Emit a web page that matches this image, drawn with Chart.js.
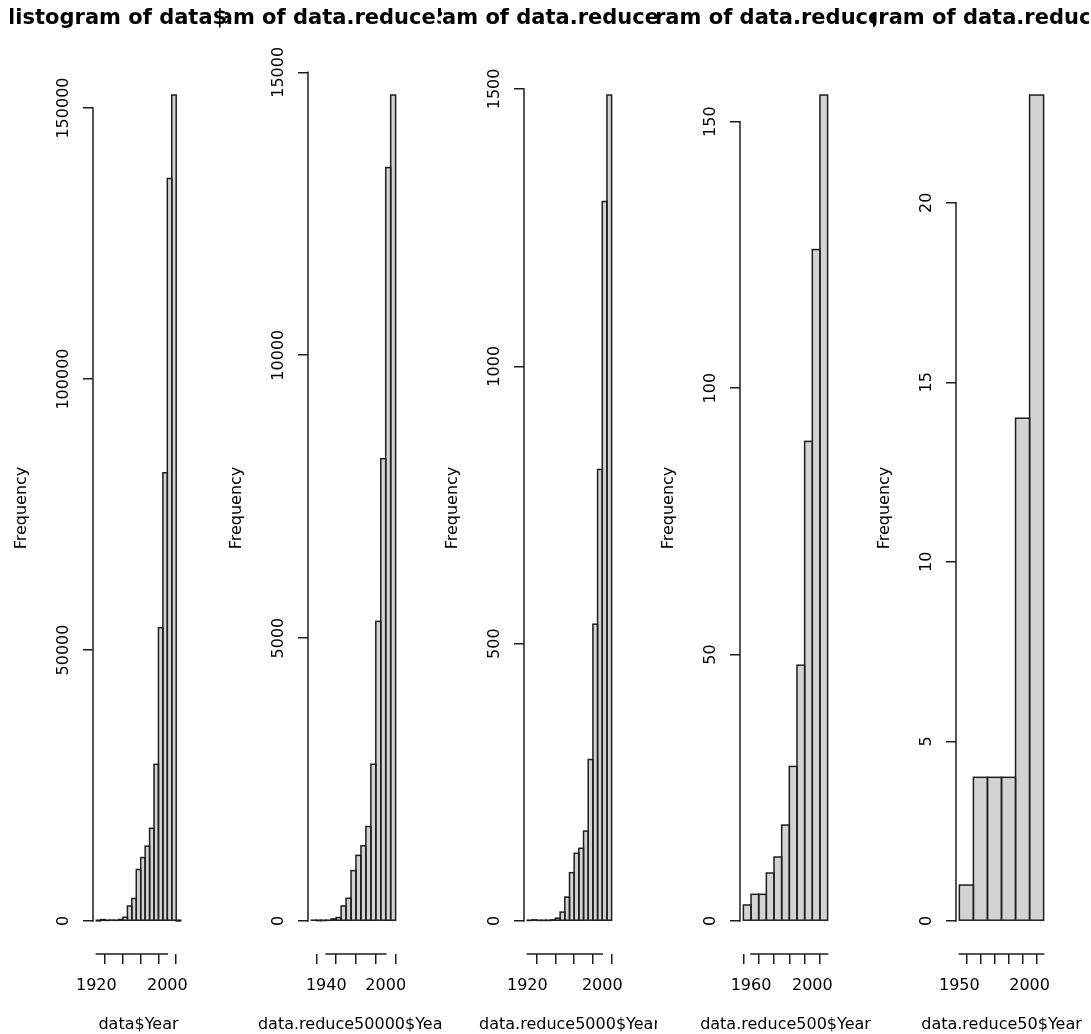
<!DOCTYPE html>
<html>
<head>
<meta charset="utf-8">
<script src="https://cdn.jsdelivr.net/npm/chart.js@4.4.1/dist/chart.umd.min.js"></script>
<style>
  html, body { margin: 0; padding: 0; background: #fff; }
  #wrap { position: relative; width: 1091px; height: 1034px; overflow: hidden; background: #fff; }
  #wrap canvas { position: absolute; top: 0; }
</style>
</head>
<body>
<div id="wrap"></div>
<script>
// Release-year histograms: the full song table and four random subsets of it.

const mainTitles = [
  'Histogram of data$Year',
  'Histogram of data.reduce50000$Year',
  'Histogram of data.reduce5000$Year',
  'Histogram of data.reduce500$Year',
  'Histogram of data.reduce50$Year'
];
const xTitles = [
  'data$Year',
  'data.reduce50000$Year',
  'data.reduce5000$Year',
  'data.reduce500$Year',
  'data.reduce50$Year'
];
const yTitle = 'Frequency';

// full table (bin edges and counts)
const fullBreaks = [1920, 1925, 1930, 1935, 1940, 1945, 1950, 1955, 1960, 1965,
                    1970, 1975, 1980, 1985, 1990, 1995, 2000, 2005, 2010, 2015];
const fullCounts = [18, 246, 105, 159, 115, 273, 682, 2762, 4143, 9500,
                    11700, 13800, 17100, 28900, 54100, 82700, 137000, 152400, 1];
const fullYTicks = [0, 50000, 100000, 150000];
const fullXTicks = [1920, 1940, 1960, 1980, 2000];
const fullXLabels = ['1920', '', '', '', '2000'];

// 50000-row subset
const r50000Breaks = [1925, 1930, 1935, 1940, 1945, 1950, 1955, 1960, 1965,
                      1970, 1975, 1980, 1985, 1990, 1995, 2000, 2005, 2010];
const r50000Counts = [14, 6, 8, 12, 36, 60, 265, 400, 890,
                      1160, 1330, 1670, 2770, 5295, 8170, 13316, 14598];
const r50000YTicks = [0, 5000, 10000, 15000];
const r50000XTicks = [1940, 1960, 1980, 2000];
const r50000XLabels = ['1940', '', '', '2000'];

// 5000-row subset
const r5000Breaks = [1920, 1925, 1930, 1935, 1940, 1945, 1950, 1955, 1960, 1965,
                     1970, 1975, 1980, 1985, 1990, 1995, 2000, 2005, 2010];
const r5000Counts = [1, 2, 1, 1, 1, 2, 5, 16, 43, 87,
                     122, 131, 162, 291, 535, 814, 1297, 1489];
const r5000YTicks = [0, 500, 1000, 1500];
const r5000XTicks = [1920, 1940, 1960, 1980, 2000];
const r5000XLabels = ['1920', '', '', '', '2000'];

// 500-row subset
const r500Breaks = [1955, 1960, 1965, 1970, 1975, 1980, 1985, 1990, 1995, 2000, 2005, 2010];
const r500Counts = [3, 5, 5, 9, 12, 18, 29, 48, 90, 126, 155];
const r500YTicks = [0, 50, 100, 150];
const r500XTicks = [1960, 1970, 1980, 1990, 2000, 2010];
const r500XLabels = ['1960', '', '', '', '2000', ''];

// 50-row subset
const r50Breaks = [1950, 1960, 1970, 1980, 1990, 2000, 2010];
const r50Counts = [1, 4, 4, 4, 14, 23];
const r50YTicks = [0, 5, 10, 15, 20];
const r50XTicks = [1950, 1960, 1970, 1980, 1990, 2000, 2010];
const r50XLabels = ['1950', '', '', '', '', '2000', ''];

const panels = [
  { breaks: fullBreaks,   counts: fullCounts,   yTicks: fullYTicks,   xTicks: fullXTicks,   xLabels: fullXLabels },
  { breaks: r50000Breaks, counts: r50000Counts, yTicks: r50000YTicks, xTicks: r50000XTicks, xLabels: r50000XLabels },
  { breaks: r5000Breaks,  counts: r5000Counts,  yTicks: r5000YTicks,  xTicks: r5000XTicks,  xLabels: r5000XLabels },
  { breaks: r500Breaks,   counts: r500Counts,   yTicks: r500YTicks,   xTicks: r500XTicks,   xLabels: r500XLabels },
  { breaks: r50Breaks,    counts: r50Counts,    yTicks: r50YTicks,    xTicks: r50XTicks,    xLabels: r50XLabels }
];
panels.forEach((p, i) => { p.title = mainTitles[i]; p.xTitle = xTitles[i]; });

// figure layout (one figure region per histogram)
const FIG_LEFT = [10, 225, 441, 657, 873];
const FIG_W = 216, FIG_H = 1034;
const MAR_LEFT = 83, MAR_RIGHT = 42, MAR_TOP = 62, MAR_BOTTOM = 80;
const FONT = '"DejaVu Sans"';
const INK = '#1e1e1e';
const LINE_W = 1.5;

Chart.defaults.font.family = FONT;
Chart.defaults.font.size = 16;
Chart.defaults.color = '#000';

const meas = document.createElement('canvas').getContext('2d');
meas.font = '16px ' + FONT;

const wrap = document.getElementById('wrap');

panels.forEach((p, i) => {
  const canvas = document.createElement('canvas');
  canvas.width = FIG_W;
  canvas.height = FIG_H;
  canvas.style.left = FIG_LEFT[i] + 'px';
  canvas.style.width = FIG_W + 'px';
  canvas.style.height = FIG_H + 'px';
  wrap.appendChild(canvas);

  const lo = p.breaks[0];
  const hi = p.breaks[p.breaks.length - 1];
  const xPad = 0.04 * (hi - lo);
  const yMax = Math.max(...p.counts);
  const points = p.counts.map((c, k) => ({ x: (p.breaks[k] + p.breaks[k + 1]) / 2, y: c }));
  const widest = Math.max(...p.yTicks.map(v => meas.measureText(String(v)).width));

  const framePlugin = {
    id: 'histFrame',
    // outline every bar rectangle on its true edges, so neighbours share one line
    afterDatasetsDraw(chart) {
      const { ctx } = chart;
      const bars = chart.getDatasetMeta(0).data;
      ctx.save();
      ctx.strokeStyle = INK;
      ctx.lineWidth = LINE_W;
      ctx.lineJoin = 'miter';
      bars.forEach(bar => {
        const { x, y, base, width } = bar.getProps(['x', 'y', 'base', 'width'], true);
        ctx.strokeRect(x - width / 2, Math.min(y, base), width, Math.abs(base - y));
      });
      ctx.restore();
    },
    // axis spines that stop at the outer ticks, plus the titles
    afterDraw(chart) {
      const { ctx, chartArea, scales: { x, y } } = chart;
      ctx.save();
      ctx.strokeStyle = INK;
      ctx.lineWidth = LINE_W;
      ctx.lineCap = 'square';
      ctx.beginPath();
      const ax = Math.round(chartArea.left);
      ctx.moveTo(ax, y.getPixelForValue(p.yTicks[0]));
      ctx.lineTo(ax, y.getPixelForValue(p.yTicks[p.yTicks.length - 1]));
      const ay = Math.round(chartArea.bottom);
      ctx.moveTo(x.getPixelForValue(p.xTicks[0]), ay);
      ctx.lineTo(x.getPixelForValue(p.xTicks[p.xTicks.length - 1]), ay);
      ctx.stroke();

      const cx = (chartArea.left + chartArea.right) / 2;
      ctx.fillStyle = '#000';
      ctx.textAlign = 'center';
      ctx.textBaseline = 'middle';
      ctx.font = 'bold 21px ' + FONT;
      ctx.fillText(p.title, cx, 19);
      ctx.font = '16px ' + FONT;
      ctx.fillText(p.xTitle, cx, chart.height - 9.5);
      ctx.restore();
    }
  };

  new Chart(canvas, {
    type: 'bar',
    data: {
      datasets: [{
        data: points,
        backgroundColor: '#d3d3d3',
        borderWidth: 0,
        inflateAmount: 0,
        barPercentage: 1,
        categoryPercentage: 1
      }]
    },
    options: {
      responsive: false,
      animation: false,
      devicePixelRatio: 1,
      events: [],
      layout: { padding: { top: MAR_TOP, right: MAR_RIGHT, bottom: 0, left: 0 } },
      plugins: {
        legend: { display: false },
        title: { display: false },
        tooltip: { enabled: false }
      },
      scales: {
        x: {
          type: 'linear',
          min: lo - xPad,
          max: hi + xPad,
          offset: false,
          afterBuildTicks: s => { s.ticks = p.xTicks.map(v => ({ value: v })); },
          afterFit: s => { s.height = MAR_BOTTOM; s.paddingLeft = 0; s.paddingRight = 0; },
          grid: { display: true, drawOnChartArea: false, drawTicks: true, tickLength: 10, color: INK, lineWidth: LINE_W },
          border: { display: false },
          ticks: {
            autoSkip: false, minRotation: 0, maxRotation: 0, padding: 12, color: '#000',
            font: { size: 16 },
            callback: v => { const k = p.xTicks.indexOf(v); return k >= 0 ? p.xLabels[k] : ''; }
          }
        },
        y: {
          type: 'linear',
          min: -0.04 * yMax,
          max: 1.04 * yMax,
          afterBuildTicks: s => { s.ticks = p.yTicks.map(v => ({ value: v })); },
          afterFit: s => { s.width = MAR_LEFT; s.paddingTop = 0; s.paddingBottom = 0; },
          grid: { display: true, drawOnChartArea: false, drawTicks: true, tickLength: 10, color: INK, lineWidth: LINE_W },
          border: { display: false },
          ticks: {
            autoSkip: false, minRotation: 90, maxRotation: 90, crossAlign: 'center',
            padding: 19.5 - widest / 2, color: '#000', font: { size: 16 },
            callback: v => String(v)
          },
          title: { display: true, text: yTitle, color: '#000', font: { size: 16 }, padding: { top: 2, bottom: 0 } }
        }
      }
    },
    plugins: [framePlugin]
  });
});
</script>
</body>
</html>
